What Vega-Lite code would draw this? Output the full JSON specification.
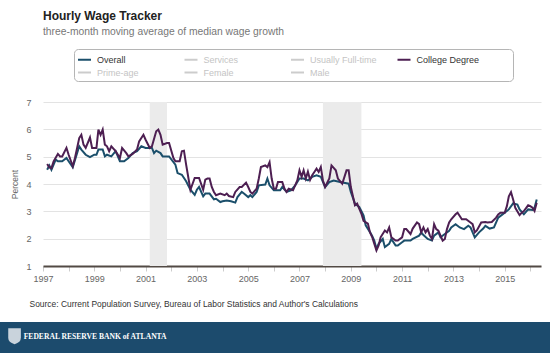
{
  "$schema": "https://vega.github.io/schema/vega-lite/v6.json",
  "width": 498,
  "height": 164,
  "autosize": {"type": "none"},
  "padding": {"left": 43, "top": 102, "right": 9, "bottom": 87},
  "background": "white",
  "title": {
    "text": "Hourly Wage Tracker",
    "subtitle": "three-month moving average of median wage growth",
    "anchor": "start",
    "frame": "group",
    "font": "Liberation Sans",
    "fontSize": 12,
    "fontWeight": "bold",
    "color": "#222222",
    "subtitleFont": "Liberation Sans",
    "subtitleFontSize": 10.3,
    "subtitleColor": "#777777",
    "subtitlePadding": 4,
    "offset": 10.5
  },
  "config": {"view": {"stroke": null}, "font": "Liberation Sans"},
  "resolve": {"axis": {"x": "independent", "y": "independent"}},
  "datasets": {
    "recessions": [
      {"start": "2001-03", "end": "2001-11"},
      {"start": "2007-12", "end": "2009-06"}
    ],
    "footer": [{"label": "FEDERAL RESERVE BANK of ATLANTA"}],
    "wages": [
      {"date": "1997-03", "series": "Overall", "value": 4.52},
      {"date": "1997-04", "series": "Overall", "value": 4.68},
      {"date": "1997-05", "series": "Overall", "value": 4.52},
      {"date": "1997-07", "series": "Overall", "value": 4.89},
      {"date": "1997-08", "series": "Overall", "value": 4.83},
      {"date": "1997-10", "series": "Overall", "value": 4.83},
      {"date": "1997-12", "series": "Overall", "value": 4.95},
      {"date": "1998-01", "series": "Overall", "value": 4.83},
      {"date": "1998-03", "series": "Overall", "value": 4.61},
      {"date": "1998-06", "series": "Overall", "value": 5.38},
      {"date": "1998-07", "series": "Overall", "value": 5.26},
      {"date": "1998-09", "series": "Overall", "value": 5.07},
      {"date": "1998-11", "series": "Overall", "value": 4.98},
      {"date": "1999-01", "series": "Overall", "value": 5.07},
      {"date": "1999-02", "series": "Overall", "value": 5.07},
      {"date": "1999-03", "series": "Overall", "value": 5.26},
      {"date": "1999-05", "series": "Overall", "value": 5.26},
      {"date": "1999-06", "series": "Overall", "value": 5.01},
      {"date": "1999-07", "series": "Overall", "value": 5.07},
      {"date": "1999-09", "series": "Overall", "value": 5.01},
      {"date": "1999-11", "series": "Overall", "value": 5.20},
      {"date": "2000-01", "series": "Overall", "value": 4.83},
      {"date": "2000-03", "series": "Overall", "value": 4.83},
      {"date": "2000-05", "series": "Overall", "value": 4.95},
      {"date": "2000-07", "series": "Overall", "value": 5.13},
      {"date": "2000-09", "series": "Overall", "value": 5.20},
      {"date": "2000-11", "series": "Overall", "value": 5.38},
      {"date": "2001-01", "series": "Overall", "value": 5.32},
      {"date": "2001-04", "series": "Overall", "value": 5.32},
      {"date": "2001-05", "series": "Overall", "value": 5.13},
      {"date": "2001-06", "series": "Overall", "value": 5.22},
      {"date": "2001-08", "series": "Overall", "value": 5.13},
      {"date": "2001-09", "series": "Overall", "value": 5.01},
      {"date": "2001-12", "series": "Overall", "value": 5.01},
      {"date": "2002-03", "series": "Overall", "value": 4.71},
      {"date": "2002-04", "series": "Overall", "value": 4.40},
      {"date": "2002-06", "series": "Overall", "value": 4.34},
      {"date": "2002-08", "series": "Overall", "value": 4.10},
      {"date": "2002-10", "series": "Overall", "value": 3.79},
      {"date": "2002-12", "series": "Overall", "value": 3.60},
      {"date": "2003-01", "series": "Overall", "value": 3.79},
      {"date": "2003-02", "series": "Overall", "value": 3.89},
      {"date": "2003-04", "series": "Overall", "value": 3.55},
      {"date": "2003-05", "series": "Overall", "value": 3.65},
      {"date": "2003-07", "series": "Overall", "value": 3.65},
      {"date": "2003-09", "series": "Overall", "value": 3.44},
      {"date": "2003-10", "series": "Overall", "value": 3.46},
      {"date": "2003-12", "series": "Overall", "value": 3.34},
      {"date": "2004-01", "series": "Overall", "value": 3.37},
      {"date": "2004-03", "series": "Overall", "value": 3.40},
      {"date": "2004-05", "series": "Overall", "value": 3.37},
      {"date": "2004-07", "series": "Overall", "value": 3.32},
      {"date": "2004-08", "series": "Overall", "value": 3.52},
      {"date": "2004-10", "series": "Overall", "value": 3.71},
      {"date": "2004-11", "series": "Overall", "value": 3.65},
      {"date": "2005-01", "series": "Overall", "value": 3.52},
      {"date": "2005-02", "series": "Overall", "value": 3.59},
      {"date": "2005-03", "series": "Overall", "value": 3.52},
      {"date": "2005-05", "series": "Overall", "value": 3.71},
      {"date": "2005-06", "series": "Overall", "value": 3.95},
      {"date": "2005-09", "series": "Overall", "value": 3.98},
      {"date": "2005-10", "series": "Overall", "value": 4.20},
      {"date": "2005-11", "series": "Overall", "value": 3.95},
      {"date": "2006-01", "series": "Overall", "value": 3.77},
      {"date": "2006-04", "series": "Overall", "value": 3.77},
      {"date": "2006-05", "series": "Overall", "value": 3.89},
      {"date": "2006-07", "series": "Overall", "value": 3.71},
      {"date": "2006-09", "series": "Overall", "value": 3.77},
      {"date": "2006-11", "series": "Overall", "value": 3.95},
      {"date": "2007-01", "series": "Overall", "value": 4.20},
      {"date": "2007-03", "series": "Overall", "value": 4.20},
      {"date": "2007-05", "series": "Overall", "value": 4.13},
      {"date": "2007-07", "series": "Overall", "value": 4.26},
      {"date": "2007-09", "series": "Overall", "value": 4.32},
      {"date": "2007-11", "series": "Overall", "value": 4.26},
      {"date": "2008-01", "series": "Overall", "value": 3.89},
      {"date": "2008-03", "series": "Overall", "value": 4.07},
      {"date": "2008-05", "series": "Overall", "value": 4.13},
      {"date": "2008-08", "series": "Overall", "value": 4.07},
      {"date": "2008-12", "series": "Overall", "value": 4.01},
      {"date": "2009-01", "series": "Overall", "value": 3.71},
      {"date": "2009-03", "series": "Overall", "value": 3.28},
      {"date": "2009-05", "series": "Overall", "value": 3.16},
      {"date": "2009-07", "series": "Overall", "value": 2.85},
      {"date": "2009-08", "series": "Overall", "value": 2.49},
      {"date": "2009-10", "series": "Overall", "value": 2.24},
      {"date": "2009-11", "series": "Overall", "value": 2.10},
      {"date": "2009-12", "series": "Overall", "value": 1.93},
      {"date": "2010-01", "series": "Overall", "value": 1.63},
      {"date": "2010-02", "series": "Overall", "value": 1.81},
      {"date": "2010-04", "series": "Overall", "value": 1.99},
      {"date": "2010-05", "series": "Overall", "value": 1.69},
      {"date": "2010-07", "series": "Overall", "value": 1.81},
      {"date": "2010-08", "series": "Overall", "value": 1.99},
      {"date": "2010-10", "series": "Overall", "value": 1.75},
      {"date": "2010-11", "series": "Overall", "value": 1.75},
      {"date": "2011-01", "series": "Overall", "value": 1.87},
      {"date": "2011-02", "series": "Overall", "value": 1.93},
      {"date": "2011-05", "series": "Overall", "value": 1.93},
      {"date": "2011-06", "series": "Overall", "value": 1.99},
      {"date": "2011-09", "series": "Overall", "value": 2.11},
      {"date": "2011-10", "series": "Overall", "value": 2.23},
      {"date": "2011-11", "series": "Overall", "value": 2.13},
      {"date": "2012-01", "series": "Overall", "value": 1.99},
      {"date": "2012-03", "series": "Overall", "value": 1.93},
      {"date": "2012-04", "series": "Overall", "value": 2.11},
      {"date": "2012-06", "series": "Overall", "value": 2.23},
      {"date": "2012-07", "series": "Overall", "value": 2.05},
      {"date": "2012-09", "series": "Overall", "value": 2.17},
      {"date": "2012-11", "series": "Overall", "value": 2.29},
      {"date": "2012-12", "series": "Overall", "value": 2.41},
      {"date": "2013-02", "series": "Overall", "value": 2.53},
      {"date": "2013-04", "series": "Overall", "value": 2.41},
      {"date": "2013-06", "series": "Overall", "value": 2.35},
      {"date": "2013-08", "series": "Overall", "value": 2.47},
      {"date": "2013-09", "series": "Overall", "value": 2.41},
      {"date": "2013-11", "series": "Overall", "value": 2.05},
      {"date": "2014-01", "series": "Overall", "value": 2.23},
      {"date": "2014-03", "series": "Overall", "value": 2.37},
      {"date": "2014-04", "series": "Overall", "value": 2.47},
      {"date": "2014-06", "series": "Overall", "value": 2.37},
      {"date": "2014-08", "series": "Overall", "value": 2.41},
      {"date": "2014-10", "series": "Overall", "value": 2.77},
      {"date": "2014-12", "series": "Overall", "value": 2.89},
      {"date": "2015-01", "series": "Overall", "value": 2.95},
      {"date": "2015-03", "series": "Overall", "value": 3.07},
      {"date": "2015-05", "series": "Overall", "value": 3.29},
      {"date": "2015-07", "series": "Overall", "value": 3.25},
      {"date": "2015-08", "series": "Overall", "value": 3.07},
      {"date": "2015-10", "series": "Overall", "value": 2.89},
      {"date": "2015-12", "series": "Overall", "value": 3.07},
      {"date": "2016-02", "series": "Overall", "value": 3.05},
      {"date": "2016-03", "series": "Overall", "value": 3.13},
      {"date": "2016-04", "series": "Overall", "value": 3.43},
      {"date": "1997-03", "series": "College Degree", "value": 4.73},
      {"date": "1997-04", "series": "College Degree", "value": 4.61},
      {"date": "1997-05", "series": "College Degree", "value": 4.58},
      {"date": "1997-06", "series": "College Degree", "value": 4.83},
      {"date": "1997-08", "series": "College Degree", "value": 5.10},
      {"date": "1997-09", "series": "College Degree", "value": 5.01},
      {"date": "1997-10", "series": "College Degree", "value": 5.01},
      {"date": "1997-12", "series": "College Degree", "value": 5.32},
      {"date": "1998-01", "series": "College Degree", "value": 5.07},
      {"date": "1998-03", "series": "College Degree", "value": 4.65},
      {"date": "1998-04", "series": "College Degree", "value": 4.95},
      {"date": "1998-06", "series": "College Degree", "value": 5.68},
      {"date": "1998-07", "series": "College Degree", "value": 5.80},
      {"date": "1998-08", "series": "College Degree", "value": 5.44},
      {"date": "1998-09", "series": "College Degree", "value": 5.32},
      {"date": "1998-11", "series": "College Degree", "value": 5.70},
      {"date": "1998-12", "series": "College Degree", "value": 5.32},
      {"date": "1999-02", "series": "College Degree", "value": 5.32},
      {"date": "1999-03", "series": "College Degree", "value": 5.99},
      {"date": "1999-04", "series": "College Degree", "value": 5.80},
      {"date": "1999-05", "series": "College Degree", "value": 5.99},
      {"date": "1999-06", "series": "College Degree", "value": 5.44},
      {"date": "1999-07", "series": "College Degree", "value": 5.38},
      {"date": "1999-08", "series": "College Degree", "value": 5.20},
      {"date": "1999-09", "series": "College Degree", "value": 5.38},
      {"date": "1999-11", "series": "College Degree", "value": 5.20},
      {"date": "2000-01", "series": "College Degree", "value": 4.95},
      {"date": "2000-02", "series": "College Degree", "value": 5.32},
      {"date": "2000-04", "series": "College Degree", "value": 5.13},
      {"date": "2000-05", "series": "College Degree", "value": 5.01},
      {"date": "2000-07", "series": "College Degree", "value": 5.10},
      {"date": "2000-09", "series": "College Degree", "value": 5.26},
      {"date": "2000-10", "series": "College Degree", "value": 5.56},
      {"date": "2000-12", "series": "College Degree", "value": 5.80},
      {"date": "2001-01", "series": "College Degree", "value": 5.62},
      {"date": "2001-03", "series": "College Degree", "value": 5.32},
      {"date": "2001-04", "series": "College Degree", "value": 5.38},
      {"date": "2001-06", "series": "College Degree", "value": 5.93},
      {"date": "2001-07", "series": "College Degree", "value": 5.99},
      {"date": "2001-08", "series": "College Degree", "value": 5.80},
      {"date": "2001-09", "series": "College Degree", "value": 5.44},
      {"date": "2001-11", "series": "College Degree", "value": 5.50},
      {"date": "2001-12", "series": "College Degree", "value": 5.50},
      {"date": "2002-02", "series": "College Degree", "value": 4.95},
      {"date": "2002-03", "series": "College Degree", "value": 4.83},
      {"date": "2002-05", "series": "College Degree", "value": 4.83},
      {"date": "2002-06", "series": "College Degree", "value": 5.20},
      {"date": "2002-07", "series": "College Degree", "value": 5.22},
      {"date": "2002-08", "series": "College Degree", "value": 4.71},
      {"date": "2002-10", "series": "College Degree", "value": 3.79},
      {"date": "2002-12", "series": "College Degree", "value": 4.22},
      {"date": "2003-02", "series": "College Degree", "value": 4.22},
      {"date": "2003-04", "series": "College Degree", "value": 3.79},
      {"date": "2003-05", "series": "College Degree", "value": 4.16},
      {"date": "2003-06", "series": "College Degree", "value": 4.20},
      {"date": "2003-07", "series": "College Degree", "value": 4.20},
      {"date": "2003-08", "series": "College Degree", "value": 3.89},
      {"date": "2003-09", "series": "College Degree", "value": 3.71},
      {"date": "2003-10", "series": "College Degree", "value": 3.59},
      {"date": "2003-12", "series": "College Degree", "value": 3.65},
      {"date": "2004-02", "series": "College Degree", "value": 3.59},
      {"date": "2004-03", "series": "College Degree", "value": 3.65},
      {"date": "2004-04", "series": "College Degree", "value": 3.56},
      {"date": "2004-06", "series": "College Degree", "value": 3.52},
      {"date": "2004-07", "series": "College Degree", "value": 3.71},
      {"date": "2004-09", "series": "College Degree", "value": 3.89},
      {"date": "2004-10", "series": "College Degree", "value": 3.89},
      {"date": "2004-12", "series": "College Degree", "value": 4.05},
      {"date": "2005-01", "series": "College Degree", "value": 3.89},
      {"date": "2005-02", "series": "College Degree", "value": 3.71},
      {"date": "2005-03", "series": "College Degree", "value": 3.65},
      {"date": "2005-05", "series": "College Degree", "value": 3.83},
      {"date": "2005-06", "series": "College Degree", "value": 4.20},
      {"date": "2005-07", "series": "College Degree", "value": 4.62},
      {"date": "2005-09", "series": "College Degree", "value": 4.68},
      {"date": "2005-10", "series": "College Degree", "value": 4.62},
      {"date": "2005-11", "series": "College Degree", "value": 4.80},
      {"date": "2005-12", "series": "College Degree", "value": 4.20},
      {"date": "2006-01", "series": "College Degree", "value": 3.83},
      {"date": "2006-02", "series": "College Degree", "value": 3.83},
      {"date": "2006-03", "series": "College Degree", "value": 4.07},
      {"date": "2006-05", "series": "College Degree", "value": 4.07},
      {"date": "2006-06", "series": "College Degree", "value": 3.83},
      {"date": "2006-07", "series": "College Degree", "value": 3.71},
      {"date": "2006-08", "series": "College Degree", "value": 3.83},
      {"date": "2006-10", "series": "College Degree", "value": 3.77},
      {"date": "2006-12", "series": "College Degree", "value": 4.13},
      {"date": "2007-01", "series": "College Degree", "value": 4.50},
      {"date": "2007-02", "series": "College Degree", "value": 4.26},
      {"date": "2007-03", "series": "College Degree", "value": 4.50},
      {"date": "2007-04", "series": "College Degree", "value": 4.20},
      {"date": "2007-05", "series": "College Degree", "value": 4.45},
      {"date": "2007-06", "series": "College Degree", "value": 4.15},
      {"date": "2007-07", "series": "College Degree", "value": 4.32},
      {"date": "2007-08", "series": "College Degree", "value": 4.44},
      {"date": "2007-09", "series": "College Degree", "value": 4.56},
      {"date": "2007-10", "series": "College Degree", "value": 4.44},
      {"date": "2007-11", "series": "College Degree", "value": 4.62},
      {"date": "2007-12", "series": "College Degree", "value": 4.13},
      {"date": "2008-01", "series": "College Degree", "value": 3.89},
      {"date": "2008-03", "series": "College Degree", "value": 4.20},
      {"date": "2008-04", "series": "College Degree", "value": 4.68},
      {"date": "2008-06", "series": "College Degree", "value": 4.50},
      {"date": "2008-07", "series": "College Degree", "value": 4.20},
      {"date": "2008-09", "series": "College Degree", "value": 4.01},
      {"date": "2008-11", "series": "College Degree", "value": 4.50},
      {"date": "2008-12", "series": "College Degree", "value": 4.50},
      {"date": "2009-01", "series": "College Degree", "value": 3.89},
      {"date": "2009-03", "series": "College Degree", "value": 3.22},
      {"date": "2009-04", "series": "College Degree", "value": 3.28},
      {"date": "2009-06", "series": "College Degree", "value": 2.91},
      {"date": "2009-07", "series": "College Degree", "value": 2.65},
      {"date": "2009-09", "series": "College Degree", "value": 2.55},
      {"date": "2009-10", "series": "College Degree", "value": 2.23},
      {"date": "2009-11", "series": "College Degree", "value": 2.06},
      {"date": "2009-12", "series": "College Degree", "value": 1.82},
      {"date": "2010-01", "series": "College Degree", "value": 1.57},
      {"date": "2010-02", "series": "College Degree", "value": 1.75},
      {"date": "2010-03", "series": "College Degree", "value": 2.05},
      {"date": "2010-05", "series": "College Degree", "value": 2.30},
      {"date": "2010-06", "series": "College Degree", "value": 2.23},
      {"date": "2010-07", "series": "College Degree", "value": 2.41},
      {"date": "2010-08", "series": "College Degree", "value": 2.05},
      {"date": "2010-10", "series": "College Degree", "value": 1.93},
      {"date": "2010-11", "series": "College Degree", "value": 1.93},
      {"date": "2011-01", "series": "College Degree", "value": 2.05},
      {"date": "2011-02", "series": "College Degree", "value": 2.35},
      {"date": "2011-03", "series": "College Degree", "value": 2.35},
      {"date": "2011-05", "series": "College Degree", "value": 2.17},
      {"date": "2011-06", "series": "College Degree", "value": 2.37},
      {"date": "2011-08", "series": "College Degree", "value": 2.59},
      {"date": "2011-09", "series": "College Degree", "value": 2.53},
      {"date": "2011-10", "series": "College Degree", "value": 2.23},
      {"date": "2011-11", "series": "College Degree", "value": 2.41},
      {"date": "2011-12", "series": "College Degree", "value": 2.23},
      {"date": "2012-01", "series": "College Degree", "value": 2.35},
      {"date": "2012-02", "series": "College Degree", "value": 2.11},
      {"date": "2012-03", "series": "College Degree", "value": 1.99},
      {"date": "2012-04", "series": "College Degree", "value": 2.53},
      {"date": "2012-05", "series": "College Degree", "value": 2.35},
      {"date": "2012-06", "series": "College Degree", "value": 2.29},
      {"date": "2012-08", "series": "College Degree", "value": 1.93},
      {"date": "2012-09", "series": "College Degree", "value": 1.99},
      {"date": "2012-10", "series": "College Degree", "value": 2.35},
      {"date": "2012-11", "series": "College Degree", "value": 2.59},
      {"date": "2012-12", "series": "College Degree", "value": 2.71},
      {"date": "2013-02", "series": "College Degree", "value": 2.89},
      {"date": "2013-03", "series": "College Degree", "value": 2.95},
      {"date": "2013-04", "series": "College Degree", "value": 2.83},
      {"date": "2013-05", "series": "College Degree", "value": 2.71},
      {"date": "2013-07", "series": "College Degree", "value": 2.71},
      {"date": "2013-09", "series": "College Degree", "value": 2.59},
      {"date": "2013-10", "series": "College Degree", "value": 2.53},
      {"date": "2013-11", "series": "College Degree", "value": 2.23},
      {"date": "2013-12", "series": "College Degree", "value": 2.30},
      {"date": "2014-02", "series": "College Degree", "value": 2.59},
      {"date": "2014-04", "series": "College Degree", "value": 2.61},
      {"date": "2014-05", "series": "College Degree", "value": 2.59},
      {"date": "2014-07", "series": "College Degree", "value": 2.61},
      {"date": "2014-09", "series": "College Degree", "value": 2.77},
      {"date": "2014-10", "series": "College Degree", "value": 2.89},
      {"date": "2014-11", "series": "College Degree", "value": 2.95},
      {"date": "2015-01", "series": "College Degree", "value": 2.95},
      {"date": "2015-02", "series": "College Degree", "value": 3.19},
      {"date": "2015-03", "series": "College Degree", "value": 3.55},
      {"date": "2015-04", "series": "College Degree", "value": 3.70},
      {"date": "2015-05", "series": "College Degree", "value": 3.43},
      {"date": "2015-06", "series": "College Degree", "value": 3.13},
      {"date": "2015-08", "series": "College Degree", "value": 2.86},
      {"date": "2015-09", "series": "College Degree", "value": 2.95},
      {"date": "2015-10", "series": "College Degree", "value": 3.01},
      {"date": "2015-12", "series": "College Degree", "value": 3.22},
      {"date": "2016-01", "series": "College Degree", "value": 3.19},
      {"date": "2016-02", "series": "College Degree", "value": 3.13},
      {"date": "2016-03", "series": "College Degree", "value": 3.01},
      {"date": "2016-04", "series": "College Degree", "value": 3.31}
    ]
  },
  "layer": [
    {
      "data": {"name": "recessions"},
      "mark": {"type": "rect", "color": "#ebebeb"},
      "encoding": {
        "x": {"field": "start", "type": "temporal", "axis": null,
              "scale": {"type": "utc", "domain": [{"year": 1997, "month": 1, "date": 1, "utc": true}, {"year": 2016, "month": 6, "date": 1, "utc": true}]}},
        "x2": {"field": "end"}
      }
    },
    {
      "data": {"name": "wages"},
      "mark": {"type": "line", "strokeWidth": 2, "interpolate": "linear"},
      "encoding": {
        "x": {
          "field": "date", "type": "temporal",
          "scale": {"type": "utc", "domain": [{"year": 1997, "month": 1, "date": 1, "utc": true}, {"year": 2016, "month": 6, "date": 1, "utc": true}]},
          "axis": {
            "title": "Source: Current Population Survey, Bureau of Labor Statistics and Author's Calculations",
            "tickCount": {"interval": "year", "step": 1},
            "labelExpr": "utcyear(datum.value) % 2 == 1 ? utcFormat(datum.value, '%Y') : ''",
            "grid": false,
            "domainColor": "#524a44",
            "domainWidth": 2,
            "tickColor": "#cccccc",
            "tickSize": 5,
            "labelFontSize": 9,
            "labelColor": "#666666",
            "labelPadding": 3,
            "labelFlush": false,
            "labelOverlap": false,
            "titleAnchor": "start",
            "titleAlign": "left",
            "titleX": -14,
            "titleY": 40,
            "titleBaseline": "alphabetic",
            "titleFontSize": 8.45,
            "titleFontWeight": "normal",
            "titleColor": "#333333"
          }
        },
        "y": {
          "field": "value", "type": "quantitative",
          "scale": {"domain": [1, 7], "nice": false, "zero": false},
          "axis": {
            "title": "Percent",
            "values": [1, 1.5, 2, 2.5, 3, 3.5, 4, 4.5, 5, 5.5, 6, 6.5, 7],
            "format": "d",
            "labelExpr": "datum.value % 1 == 0 ? datum.label : ''",
            "ticks": false,
            "domain": false,
            "grid": true,
            "gridColor": "#e3e3e3",
            "labelPadding": 12,
            "labelFontSize": 9,
            "labelColor": "#666666",
            "titleFontSize": 8.5,
            "titleFontWeight": "normal",
            "titleColor": "#666666",
            "titlePadding": 6
          }
        },
        "color": {
          "field": "series", "type": "nominal",
          "scale": {
            "domain": ["Overall", "Prime-age", "Services", "Female", "Usually Full-time", "Male", "College Degree"],
            "range": ["#1b4f6b", "#cccccc", "#cccccc", "#cccccc", "#cccccc", "#cccccc", "#4d1f52"]
          },
          "legend": {
            "orient": "none",
            "legendX": 31,
            "legendY": -53,
            "columns": 4,
            "gridAlign": "all",
            "columnPadding": 16.5,
            "rowPadding": -5,
            "symbolType": "stroke",
            "symbolSize": 169,
            "symbolStrokeWidth": 2,
            "labelFontSize": 9,
            "labelOffset": 5,
            "labelColor": "#333333",
            "strokeColor": "#b5b5b5",
            "cornerRadius": 4,
            "padding": 3,
            "fillColor": "white",
            "title": " ",
            "titleOrient": "right",
            "titlePadding": 31,
            "encode": {
              "labels": {"update": {"fill": {"signal": "indexof(['Overall', 'College Degree'], datum.label) >= 0 ? '#333333' : '#c4c4c4'"}}}
            }
          }
        },
        "order": {"field": "date", "type": "temporal"}
      }
    },
    {
      "data": {"name": "footer"},
      "mark": {"type": "rect", "color": "#1c4b6d"},
      "encoding": {
        "x": {"datum": {"year": 1995, "month": 1, "date": 1, "utc": true}, "type": "temporal", "axis": null,
              "scale": {"type": "utc", "domain": [{"year": 1997, "month": 1, "date": 1, "utc": true}, {"year": 2016, "month": 6, "date": 1, "utc": true}]}},
        "x2": {"datum": {"year": 2017, "month": 6, "date": 1, "utc": true}},
        "y": {"datum": -1.05, "type": "quantitative", "axis": null, "scale": {"domain": [1, 7], "nice": false, "zero": false}},
        "y2": {"datum": -2.4}
      }
    },
    {
      "data": {"name": "footer"},
      "mark": {"type": "point", "shape": "M-0.8,-1 L0.8,-1 L0.8,0.2 Q0.8,0.8 0,1 Q-0.8,0.8 -0.8,0.2 Z", "filled": true, "color": "#c9d3dc", "opacity": 1, "size": 250},
      "encoding": {
        "x": {"datum": {"year": 1995, "month": 11, "date": 23, "utc": true}, "type": "temporal", "axis": null,
              "scale": {"type": "utc", "domain": [{"year": 1997, "month": 1, "date": 1, "utc": true}, {"year": 2016, "month": 6, "date": 1, "utc": true}]}},
        "y": {"datum": -1.57, "type": "quantitative", "axis": null, "scale": {"domain": [1, 7], "nice": false, "zero": false}}
      }
    },
    {
      "data": {"name": "footer"},
      "mark": {"type": "text", "align": "left", "baseline": "middle", "font": "Liberation Serif", "fontWeight": "bold", "fontSize": 7.6, "color": "white"},
      "encoding": {
        "x": {"datum": {"year": 1996, "month": 4, "date": 1, "utc": true}, "type": "temporal", "axis": null,
              "scale": {"type": "utc", "domain": [{"year": 1997, "month": 1, "date": 1, "utc": true}, {"year": 2016, "month": 6, "date": 1, "utc": true}]}},
        "y": {"datum": -1.61, "type": "quantitative", "axis": null, "scale": {"domain": [1, 7], "nice": false, "zero": false}},
        "text": {"field": "label"}
      }
    }
  ]
}
